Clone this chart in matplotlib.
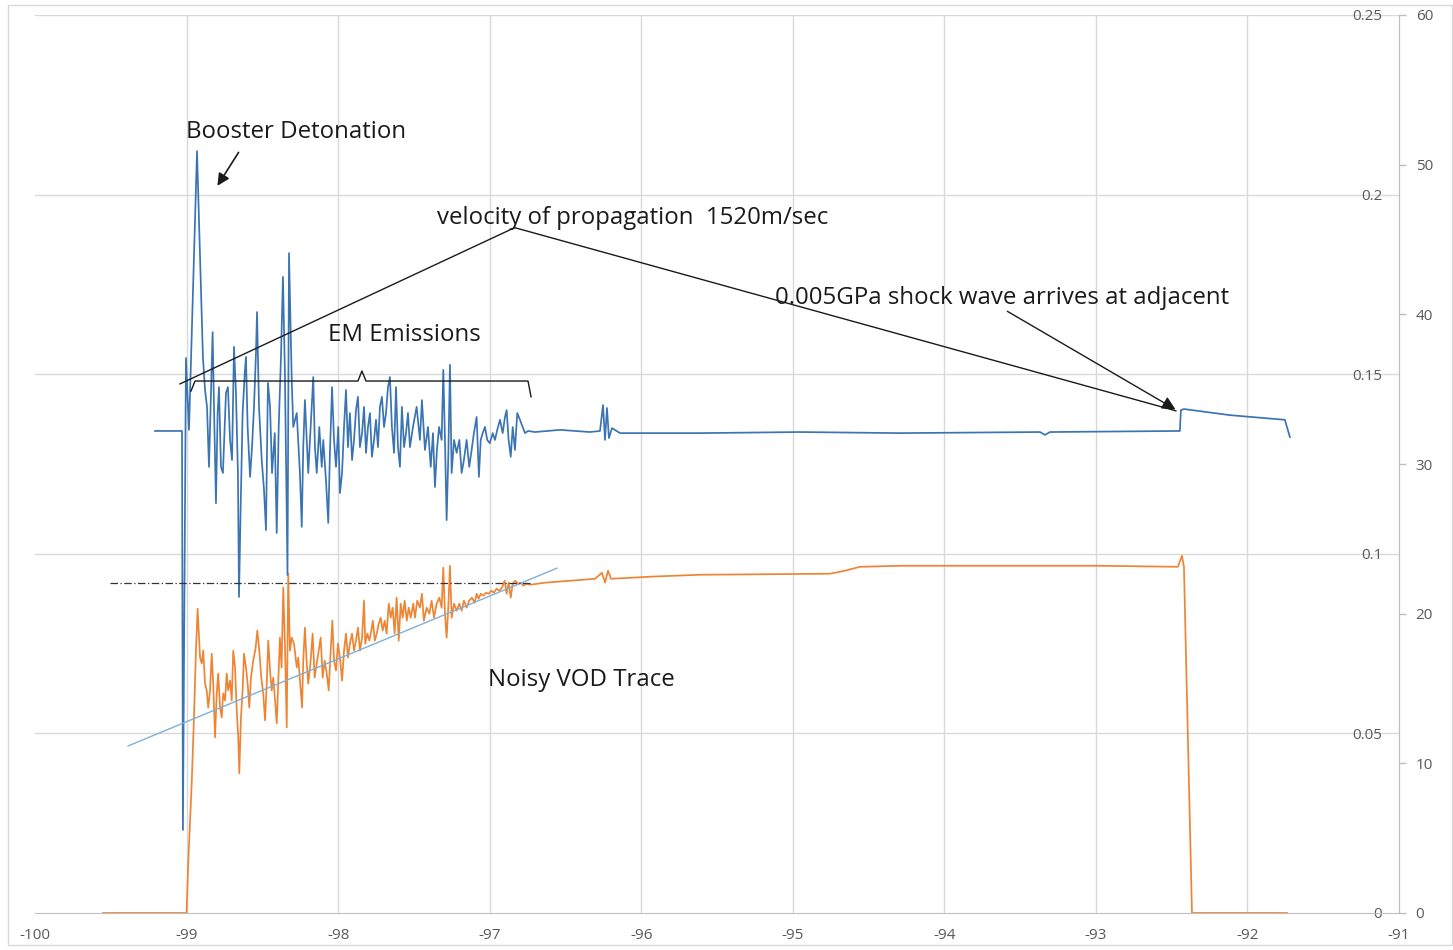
import matplotlib
matplotlib.use("Agg")
import matplotlib.pyplot as plt
from matplotlib.patches import Rectangle
import numpy as np

plt.rcParams['font.family'] = ['Open Sans', 'DejaVu Sans']

# ---------------- data ----------------
x_ticks = [-100, -99, -98, -97, -96, -95, -94, -93, -92, -91]
x_tick_labels = ['-100', '-99', '-98', '-97', '-96', '-95', '-94', '-93', '-92', '-91']
left_ticks = [0, 0.05, 0.1, 0.15, 0.2, 0.25]
left_tick_labels = ['0', '0.05', '0.1', '0.15', '0.2', '0.25']
right_ticks = [0, 10, 20, 30, 40, 50, 60]
right_tick_labels = ['0', '10', '20', '30', '40', '50', '60']

# EM emission trace (blue, primary axis)
blue_t = [-99.208, -99.030, -99.024, -99.004, -98.984, -98.931, -98.901, -98.892, -98.878, -98.865,
          -98.852, -98.839, -98.828, -98.819, -98.806, -98.795, -98.786, -98.773, -98.760, -98.740,
          -98.727, -98.713, -98.700, -98.687, -98.674, -98.661, -98.654, -98.643, -98.630, -98.616,
          -98.608, -98.597, -98.581, -98.568, -98.555, -98.542, -98.535, -98.522, -98.504, -98.489,
          -98.476, -98.463, -98.449, -98.436, -98.418, -98.405, -98.392, -98.377, -98.364, -98.351,
          -98.334, -98.324, -98.306, -98.296, -98.273, -98.252, -98.240, -98.230, -98.219, -98.207,
          -98.197, -98.181, -98.164, -98.153, -98.141, -98.124, -98.108, -98.098, -98.080, -98.065,
          -98.054, -98.040, -98.027, -98.014, -97.999, -97.988, -97.974, -97.961, -97.948, -97.935,
          -97.922, -97.908, -97.895, -97.882, -97.869, -97.856, -97.842, -97.829, -97.816, -97.803,
          -97.790, -97.777, -97.763, -97.750, -97.737, -97.724, -97.711, -97.697, -97.684, -97.671,
          -97.658, -97.645, -97.631, -97.618, -97.605, -97.592, -97.579, -97.565, -97.552, -97.539,
          -97.526, -97.506, -97.482, -97.460, -97.447, -97.427, -97.407, -97.389, -97.374, -97.361,
          -97.348, -97.334, -97.317, -97.306, -97.295, -97.284, -97.273, -97.262, -97.251, -97.235,
          -97.218, -97.200, -97.185, -97.170, -97.152, -97.135, -97.119, -97.104, -97.086, -97.071,
          -97.059, -97.046, -97.031, -97.016, -96.999, -96.980, -96.965, -96.950, -96.932, -96.914,
          -96.899, -96.888, -96.875, -96.861, -96.848, -96.833, -96.818, -96.800, -96.782, -96.767,
          -96.747, -96.701, -96.536, -96.338, -96.272, -96.252, -96.239, -96.226, -96.213, -96.193,
          -96.140, -95.612, -94.953, -94.293, -93.369, -93.336, -93.303, -92.459, -92.446, -92.439,
          -92.419, -92.115, -91.753, -91.720]
blue_v = [0.1342, 0.1342, 0.0231, 0.1545, 0.1345, 0.2121, 0.1679, 0.1548, 0.1456, 0.1409,
          0.1242, 0.1448, 0.1617, 0.1409, 0.1141, 0.1392, 0.1464, 0.1242, 0.1225, 0.1448,
          0.1464, 0.1317, 0.1261, 0.1576, 0.1448, 0.1225, 0.0880, 0.1130, 0.1392, 0.1503,
          0.1548, 0.1353, 0.1214, 0.1297, 0.1409, 0.1559, 0.1673, 0.1409, 0.1261, 0.1178,
          0.1066, 0.1476, 0.1409, 0.1225, 0.1336, 0.1058, 0.1353, 0.1548, 0.1771, 0.1503,
          0.0941, 0.1837, 0.1484, 0.1353, 0.1392, 0.1225, 0.1075, 0.1297, 0.1428, 0.1317,
          0.1225, 0.1353, 0.1492, 0.1297, 0.1225, 0.1353, 0.1242, 0.1317, 0.1205, 0.1086,
          0.1281, 0.1464, 0.1317, 0.1242, 0.1353, 0.1169, 0.1225, 0.1353, 0.1456, 0.1297,
          0.1392, 0.1261, 0.1317, 0.1400, 0.1437, 0.1297, 0.1336, 0.1409, 0.1281, 0.1353,
          0.1392, 0.1270, 0.1317, 0.1373, 0.1297, 0.1409, 0.1437, 0.1353, 0.1392, 0.1464,
          0.1492, 0.1353, 0.1281, 0.1464, 0.1297, 0.1242, 0.1409, 0.1297, 0.1336, 0.1392,
          0.1297, 0.1353, 0.1409, 0.1317, 0.1428, 0.1289, 0.1353, 0.1242, 0.1336, 0.1186,
          0.1289, 0.1353, 0.1317, 0.1512, 0.1317, 0.1094, 0.1270, 0.1526, 0.1225, 0.1317,
          0.1281, 0.1317, 0.1225, 0.1261, 0.1317, 0.1242, 0.1289, 0.1336, 0.1381, 0.1214,
          0.1317, 0.1336, 0.1353, 0.1317, 0.1308, 0.1336, 0.1317, 0.1345, 0.1373, 0.1336,
          0.1381, 0.1400, 0.1317, 0.1270, 0.1353, 0.1289, 0.1392, 0.1373, 0.1353, 0.1336,
          0.1342, 0.1339, 0.1345, 0.1339, 0.1342, 0.1414, 0.1317, 0.1406, 0.1322, 0.1350,
          0.1336, 0.1336, 0.1339, 0.1336, 0.1339, 0.1331, 0.1339, 0.1342, 0.1342, 0.1400,
          0.1403, 0.1386, 0.1373, 0.1325]

# VOD trace (orange, secondary axis)
orange_t = [-99.551, -99.000, -98.989, -98.966, -98.951, -98.938, -98.927, -98.911, -98.900, -98.890,
            -98.878, -98.867, -98.857, -98.845, -98.834, -98.824, -98.812, -98.801, -98.791, -98.779,
            -98.768, -98.758, -98.746, -98.735, -98.725, -98.713, -98.702, -98.692, -98.680, -98.669,
            -98.659, -98.652, -98.641, -98.630, -98.621, -98.608, -98.597, -98.586, -98.575, -98.560,
            -98.544, -98.533, -98.520, -98.507, -98.494, -98.482, -98.471, -98.461, -98.449, -98.438,
            -98.428, -98.416, -98.405, -98.395, -98.384, -98.373, -98.362, -98.351, -98.339, -98.329,
            -98.318, -98.306, -98.291, -98.273, -98.263, -98.247, -98.238, -98.230, -98.219, -98.207,
            -98.197, -98.181, -98.168, -98.155, -98.141, -98.128, -98.115, -98.102, -98.089, -98.075,
            -98.062, -98.049, -98.038, -98.027, -98.014, -98.001, -97.988, -97.974, -97.961, -97.948,
            -97.935, -97.922, -97.908, -97.895, -97.882, -97.869, -97.856, -97.842, -97.829, -97.821,
            -97.807, -97.794, -97.781, -97.771, -97.758, -97.745, -97.732, -97.719, -97.706, -97.693,
            -97.680, -97.666, -97.653, -97.640, -97.627, -97.614, -97.600, -97.587, -97.574, -97.561,
            -97.547, -97.534, -97.521, -97.504, -97.493, -97.478, -97.460, -97.447, -97.434, -97.416,
            -97.398, -97.383, -97.367, -97.350, -97.332, -97.317, -97.306, -97.295, -97.284, -97.273,
            -97.262, -97.251, -97.235, -97.218, -97.200, -97.185, -97.170, -97.152, -97.135, -97.117,
            -97.099, -97.086, -97.073, -97.059, -97.042, -97.024, -97.007, -96.989, -96.972, -96.954,
            -96.937, -96.919, -96.901, -96.888, -96.875, -96.861, -96.848, -96.831, -96.813, -96.795,
            -96.778, -96.756, -96.734, -96.635, -96.470, -96.305, -96.259, -96.239, -96.219, -96.199,
            -95.942, -95.612, -94.755, -94.656, -94.557, -94.293, -93.633, -92.973, -92.459, -92.432,
            -92.419, -92.366, -91.739]
orange_v = [0, 0, 3.33, 8.67, 13.07, 17.53, 20.33, 17.07, 16.67, 17.53,
            15.33, 14.87, 13.73, 14.87, 17.33, 15.33, 11.73, 14.67, 16.0, 13.73,
            13.07, 14.67, 14.2, 16.0, 14.87, 15.53, 14.2, 17.53, 16.4, 13.53,
            11.73, 9.33, 13.07, 14.87, 17.33, 16.4, 15.33, 13.73, 15.73, 16.87,
            17.73, 18.87, 17.53, 15.73, 14.67, 12.87, 15.33, 18.2, 16.2, 14.87,
            15.73, 14.2, 12.67, 15.33, 18.4, 16.4, 21.73, 18.0, 12.4, 22.67,
            17.53, 18.4, 18.0, 16.4, 17.07, 14.87, 13.73, 16.87, 19.07, 16.67,
            15.33, 16.87, 18.67, 15.73, 16.67, 17.53, 18.4, 15.73, 16.87, 16.0,
            14.87, 17.53, 19.53, 16.87, 16.2, 18.0, 17.07, 15.53, 17.53, 18.67,
            17.07, 18.0, 18.67, 17.53, 18.2, 19.07, 17.53, 18.4, 20.87, 18.0,
            18.67, 18.2, 18.87, 19.53, 18.2, 18.67, 19.33, 19.73, 18.87, 19.53,
            18.67, 20.67, 19.73, 20.4, 18.67, 21.07, 18.2, 20.67, 19.73, 20.87,
            19.53, 20.4, 19.73, 20.67, 19.73, 20.87, 20.4, 21.33, 19.53, 20.4,
            20.0, 20.87, 19.73, 20.67, 21.07, 20.4, 23.07, 20.0, 18.4, 20.4,
            23.2, 19.73, 20.67, 20.2, 20.67, 20.2, 20.87, 20.4, 20.87, 21.07,
            20.73, 21.33, 21.0, 21.33, 21.2, 21.4, 21.33, 21.53, 21.4, 21.67,
            21.53, 21.73, 22.2, 21.33, 22.07, 21.07, 22.0, 22.2, 22.0, 22.07,
            21.87, 22.0, 21.93, 22.07, 22.2, 22.33, 22.73, 22.07, 22.87, 22.33,
            22.47, 22.6, 22.67, 22.87, 23.13, 23.2, 23.2, 23.2, 23.13, 23.87,
            23.13, 0, 0]

# linear trend through the noisy VOD trace (primary axis units)
trend_t = [-99.386, -96.556]
trend_v = [0.0465, 0.0960]
# dash-dot reference level (primary axis units)
level_t = [-99.505, -96.721]
level_v = [0.0919, 0.0919]

# ---------------- figure ----------------
W, H = 1453, 950
fig = plt.figure(figsize=(W / 100, H / 100), dpi=100)
fig.patch.set_facecolor('white')
fig.add_artist(Rectangle((8 / W, 5 / H), 1444 / W, 940 / H, transform=fig.transFigure,
                         fill=False, edgecolor='#d9d9d9', linewidth=1))

ax = fig.add_axes([35 / W, 37 / H, (1399 - 35) / W, (913 - 15) / H])
ax2 = ax.twinx()

grid_c = '#d9d9d9'
tick_c = '#595959'

ax.set_xlim(-100, -91)
ax.set_ylim(0, 0.25)
ax2.set_ylim(0, 60)

for yy in left_ticks[1:]:
    ax.axhline(yy, color=grid_c, lw=1, zorder=0)
for xx in x_ticks[1:-1]:
    ax.axvline(xx, color=grid_c, lw=1, zorder=0)

for s in ['top', 'left']:
    ax.spines[s].set_visible(False)
    ax2.spines[s].set_visible(False)
ax.spines['right'].set_color('#bfbfbf')
ax.spines['bottom'].set_color('#bfbfbf')
ax2.spines['right'].set_color('#bfbfbf')
ax2.spines['bottom'].set_visible(False)

ax.set_xticks(x_ticks)
ax.set_xticklabels(x_tick_labels)
ax.tick_params(axis='x', length=0, pad=11, labelsize=11, colors=tick_c)

ax.yaxis.tick_right()
ax.set_yticks(left_ticks)
ax.set_yticklabels(left_tick_labels)
ax.tick_params(axis='y', length=0, pad=-12, labelsize=11, colors=tick_c)
for lab in ax.get_yticklabels():
    lab.set_horizontalalignment('right')

ax2.set_yticks(right_ticks)
ax2.set_yticklabels(right_tick_labels)
ax2.tick_params(axis='y', length=5, width=1, color='#bfbfbf', pad=7, labelsize=11, labelcolor=tick_c)

blue_c = '#3b74b2'
orange_c = '#ee8535'

ax2.plot(orange_t, orange_v, color=orange_c, lw=1.25, zorder=2)
ax2.plot(blue_t, [v * 240 for v in blue_v], color=blue_c, lw=1.25, zorder=3)
ax2.plot(trend_t, [v * 240 for v in trend_v], color='#7fb0d8', lw=1.0, zorder=4)
ax2.plot(level_t, [v * 240 for v in level_v], color='#333333', lw=0.9,
         linestyle=(0, (6, 2, 1, 2)), zorder=4)

# ---------------- annotations ----------------
T = ax.transData
txt_kw = dict(fontsize=17.3, color='#1a1a1a', va='center', ha='left', transform=T, zorder=6)
ax2.text(-99.004, 0.2174, 'Booster Detonation', **txt_kw)
ax2.text(-97.348, 0.1935, 'velocity of propagation  1520m/sec', **txt_kw)
ax2.text(-95.117, 0.1712, '0.005GPa shock wave arrives at adjacent', **txt_kw)
ax2.text(-98.067, 0.1609, 'EM Emissions', **txt_kw)
ax2.text(-97.011, 0.0649, 'Noisy VOD Trace', **txt_kw)

ax2.annotate('', xy=(-98.806, 0.2018), xycoords=T, xytext=(-98.647, 0.2124), textcoords=T,
             arrowprops=dict(arrowstyle='-|>', color='#1a1a1a', lw=1.2, mutation_scale=18), zorder=6)
# velocity lines
ax2.plot([-99.043, -96.840, -96.826, -92.472], [v * 240 for v in [0.1473, 0.1907, 0.1907, 0.1398]],
         color='#1a1a1a', lw=1.0, zorder=6)
ax2.annotate('', xy=(-92.459, 0.1398), xycoords=T, xytext=(-93.600, 0.1679), textcoords=T,
             arrowprops=dict(arrowstyle='-|>', color='#1a1a1a', lw=1.0, mutation_scale=20), zorder=6)
# brace
brace_t = [-98.971, -98.944, -97.869, -97.843, -97.816, -96.747, -96.727]
brace_v = [0.1453, 0.1481, 0.1481, 0.1509, 0.1481, 0.1481, 0.1437]
ax2.plot(brace_t, [v * 240 for v in brace_v], color='#1a1a1a', lw=1.0, zorder=6)

fig.savefig('out.png', dpi=100)
